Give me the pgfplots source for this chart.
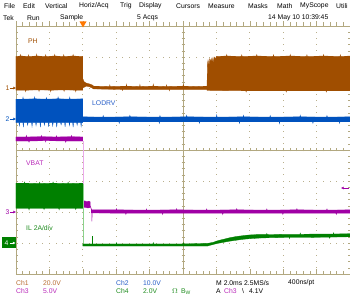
\documentclass[border=0pt]{standalone}
\usepackage{fontspec}
\setmainfont{Liberation Sans}
\usepackage{pgfplots}
\pgfplotsset{compat=1.18}
\usetikzlibrary{arrows.meta}
\definecolor{cA}{RGB}{160,78,0}
\definecolor{cB}{RGB}{0,82,190}
\definecolor{cC}{RGB}{160,0,165}
\definecolor{cD}{RGB}{0,128,0}
\definecolor{cDl}{RGB}{140,210,140}
\definecolor{cCl}{RGB}{235,170,235}
\definecolor{tA}{RGB}{185,110,50}
\definecolor{tB}{RGB}{40,95,200}
\definecolor{tC}{RGB}{185,40,185}
\definecolor{tD}{RGB}{30,140,30}
\definecolor{grat}{RGB}{178,168,128}
\definecolor{gdot}{RGB}{185,175,140}
\definecolor{trig}{RGB}{255,120,0}
\begin{document}
\begin{tikzpicture}[x=1pt,y=1pt,font=\fontsize{6.8}{7}\selectfont]
\path[use as bounding box] (-16,-28) rectangle (334,274);
\fill[white] (-16,-28) rectangle (334,274);
% dotted grid
\foreach \i in {1,2,3,4,6,7,8,9} {\foreach \j in {0,1,...,40} {\fill[gdot] (\i*33.4-0.45,\j*6.2-0.45) rectangle ++(0.9,0.9);}}
\foreach \j in {1,2,3,5,6,7} {\foreach \i in {0,1,...,50} {\fill[gdot] (\i*6.68-0.45,\j*31-0.45) rectangle ++(0.9,0.9);}}
% centre cross
\draw[grat,line width=0.6pt] (167,0)--(167,248) (0,124)--(334,124);
\foreach \j in {0,1,...,40} {\draw[grat,line width=0.5pt] (165.5,\j*6.2)--(168.5,\j*6.2) (0,\j*6.2)--(2.5,\j*6.2) (334,\j*6.2)--(331.5,\j*6.2);}
\foreach \i in {0,1,...,50} {\draw[grat,line width=0.5pt] (\i*6.68,122.5)--(\i*6.68,125.5) (\i*6.68,0)--(\i*6.68,2.5) (\i*6.68,248)--(\i*6.68,251.5);}
\foreach \i in {0,1,...,10} {\draw[grat,line width=0.5pt] (\i*33.4,0)--(\i*33.4,4.5) (\i*33.4,248)--(\i*33.4,253);}
\draw[grat,line width=0.8pt] (0,0) rectangle (334,248);
% trigger position marker
\fill[trig] (63.5,252.5)--(70.5,252.5)--(67,246.5)--cycle;
\begin{axis}[at={(0,0)},anchor=origin,scale only axis,width=334pt,height=248pt,
  xmin=0,xmax=10,ymin=0,ymax=8,hide axis,clip=true]
% Ch1 PH
\addplot[fill=cA,draw=cA,line width=0.3pt] coordinates {
(0,7.02)(0.13,7.03)(0.14,7.08)(0.15,7.03)(0.37,7.02)(0.38,7.07)(0.39,7.02)(0.61,7.03)(0.62,7.09)(0.63,7.03)(0.88,7.02)(0.89,7.07)(0.9,7.02)(1.15,7.03)(1.16,7.08)(1.17,7.03)(1.42,7.02)(1.43,7.07)(1.44,7.02)(1.7,7.03)(1.71,7.08)(1.72,7.03)(2.0,7.02)
(2.0,5.93)(1.8,5.93)(1.79,5.88)(1.78,5.93)(1.45,5.94)(1.44,5.89)(1.43,5.94)(1.05,5.93)(1.04,5.88)(1.03,5.93)(0.7,5.94)(0.69,5.89)(0.68,5.94)(0.3,5.93)(0.29,5.88)(0.28,5.93)(0,5.93)} --cycle;
\addplot[fill=cA,draw=cA,line width=0.3pt] coordinates {
(2.0,6.3)(2.04,6.2)(2.1,6.16)(2.2,6.13)(2.28,6.1)(2.32,6.06)(2.8,6.05)(2.81,6.1)(2.82,6.05)(3.3,6.06)(3.31,6.12)(3.32,6.06)(3.7,6.05)(3.71,6.11)(3.72,6.05)(4.1,6.06)(4.11,6.12)(4.12,6.06)(4.5,6.05)(4.51,6.1)(4.52,6.05)(5.0,6.06)(5.01,6.11)(5.02,6.06)(5.4,6.05)(5.72,6.06)
(5.72,5.95)(4.6,5.95)(4.59,5.91)(4.58,5.95)(3.2,5.95)(3.19,5.92)(3.18,5.95)(2.32,5.97)(2.28,6.0)(2.2,6.04)(2.1,6.06)(2.0,6.0)} --cycle;
\addplot[fill=cA,draw=cA,line width=0.3pt] coordinates {
(5.72,6.05)(5.73,6.75)(5.75,6.9)(5.78,6.72)(5.8,6.95)(5.84,6.86)(5.87,6.98)(5.9,6.82)(5.93,7.0)(5.97,6.94)(6.0,7.02)(6.3,7.03)(6.31,7.08)(6.32,7.03)(6.75,7.02)(6.76,7.07)(6.77,7.02)(7.2,7.03)(7.21,7.08)(7.22,7.03)(7.7,7.02)(7.71,7.07)(7.72,7.02)(8.2,7.03)(8.21,7.08)(8.22,7.03)(8.7,7.02)(8.71,7.07)(8.72,7.02)(9.2,7.03)(9.21,7.08)(9.22,7.03)(9.7,7.02)(9.71,7.07)(9.72,7.02)(10,7.03)
(10,5.91)(9.3,5.91)(9.29,5.87)(9.28,5.91)(8.1,5.91)(8.09,5.87)(8.08,5.91)(6.9,5.91)(6.89,5.87)(6.88,5.91)(5.72,5.92)} --cycle;
% Ch2 LODRV
\addplot[fill=cB,draw=cB,line width=0.3pt] coordinates {
(0,5.64)(0.2,5.64)(0.21,5.7)(0.22,5.64)(0.55,5.65)(0.56,5.71)(0.57,5.65)(0.9,5.64)(0.91,5.69)(0.92,5.64)(1.25,5.65)(1.26,5.71)(1.27,5.65)(1.6,5.64)(1.61,5.7)(1.62,5.64)(2.0,5.65)
(2.0,4.88)(1.962,4.88)(1.95,4.76)(1.938,4.88)(1.842,4.88)(1.83,4.8)(1.818,4.88)(1.722,4.88)(1.71,4.74)(1.698,4.88)(1.612,4.88)(1.6,4.79)(1.588,4.88)(1.482,4.88)(1.47,4.75)(1.458,4.88)(1.362,4.88)(1.35,4.81)(1.338,4.88)(1.232,4.88)(1.22,4.74)(1.208,4.88)(1.112,4.88)(1.1,4.78)(1.088,4.88)(0.992,4.88)(0.98,4.75)(0.968,4.88)(0.862,4.88)(0.85,4.8)(0.838,4.88)(0.742,4.88)(0.73,4.74)(0.718,4.88)(0.612,4.88)(0.6,4.79)(0.588,4.88)(0.492,4.88)(0.48,4.76)(0.468,4.88)(0.362,4.88)(0.35,4.8)(0.338,4.88)(0.232,4.88)(0.22,4.74)(0.208,4.88)(0.112,4.88)(0.1,4.78)(0.088,4.88)(0,4.88)} --cycle;
\addplot[fill=cB,draw=cB,line width=0.3pt] coordinates {
(2.0,5.07)(2.6,5.06)(2.61,5.11)(2.62,5.06)(3.4,5.07)(3.41,5.12)(3.42,5.07)(4.3,5.06)(4.31,5.11)(4.32,5.06)(5.1,5.07)(5.11,5.12)(5.12,5.07)(6.0,5.06)(6.01,5.13)(6.02,5.06)(6.8,5.07)(6.81,5.12)(6.82,5.07)(7.6,5.06)(7.61,5.11)(7.62,5.06)(8.5,5.07)(8.51,5.12)(8.52,5.07)(9.3,5.06)(9.31,5.11)(9.32,5.06)(10,5.07)
(10,4.91)(9.7,4.91)(9.69,4.86)(9.68,4.91)(8.9,4.91)(8.89,4.86)(8.88,4.91)(7.9,4.91)(7.89,4.85)(7.88,4.91)(6.7,4.91)(6.69,4.86)(6.68,4.91)(5.5,4.91)(5.49,4.86)(5.48,4.91)(4.3,4.91)(4.29,4.86)(4.28,4.91)(3.1,4.91)(3.09,4.86)(3.08,4.91)(2.0,4.91)} --cycle;
% Ch3 VBAT
\addplot[fill=cC,draw=cC,line width=0.3pt] coordinates {
(0,4.42)(0.3,4.42)(0.31,4.47)(0.32,4.42)(0.75,4.43)(0.76,4.47)(0.77,4.43)(1.2,4.42)(1.21,4.46)(1.22,4.42)(1.65,4.43)(1.66,4.47)(1.67,4.43)(2.0,4.42)
(2.0,4.29)(1.5,4.29)(1.49,4.25)(1.48,4.29)(0.9,4.3)(0.89,4.26)(0.88,4.3)(0.4,4.29)(0.39,4.25)(0.38,4.29)(0,4.29)} --cycle;
\addplot[cCl,line width=0.8pt] coordinates {(2.01,4.3)(2.01,2.3)};
\addplot[fill=cC,draw=cC,line width=0.3pt] coordinates {
(2.0,2.34)(2.06,2.36)(2.12,2.33)(2.18,2.35)(2.22,2.33)(2.22,2.14)(2.15,2.13)(2.08,2.15)(2.0,2.14)} --cycle;
\addplot[cC,line width=0.6pt] coordinates {(2.22,2.2)(2.27,2.05)(2.27,1.7)(2.28,2.02)};
\addplot[fill=cC,draw=cC,line width=0.3pt] coordinates {
(2.25,2.07)(3.0,2.07)(3.01,2.11)(3.02,2.07)(3.9,2.06)(3.91,2.1)(3.92,2.06)(4.8,2.07)(4.81,2.11)(4.82,2.07)(5.7,2.06)(5.71,2.1)(5.72,2.06)(6.6,2.07)(6.61,2.11)(6.62,2.07)(7.5,2.06)(7.51,2.1)(7.52,2.06)(8.4,2.07)(8.41,2.11)(8.42,2.07)(9.3,2.06)(9.31,2.1)(9.32,2.06)(10,2.07)
(10,1.96)(9.6,1.96)(9.59,1.92)(9.58,1.96)(8.0,1.96)(7.99,1.92)(7.98,1.96)(6.2,1.96)(6.19,1.92)(6.18,1.96)(4.4,1.96)(4.39,1.92)(4.38,1.96)(3.3,1.96)(3.29,1.92)(3.28,1.96)(2.25,1.97)} --cycle;
% Ch4 IL
\addplot[fill=cD,draw=cD,line width=0.3pt] coordinates {
(0,2.93)(0.25,2.93)(0.26,2.97)(0.27,2.93)(0.7,2.92)(0.71,2.96)(0.72,2.92)(1.1,2.93)(1.11,2.97)(1.12,2.93)(1.55,2.92)(1.56,2.96)(1.57,2.92)(2.0,2.93)
(2.0,2.12)(1.8,2.12)(1.79,2.08)(1.78,2.12)(1.3,2.12)(1.29,2.07)(1.28,2.12)(0.85,2.12)(0.84,2.08)(0.83,2.12)(0.4,2.12)(0.39,2.07)(0.38,2.12)(0,2.12)} --cycle;
\addplot[cDl,line width=0.8pt] coordinates {(2.01,2.9)(2.01,0.93)};
\addplot[fill=cD,draw=cD,line width=0.3pt] coordinates {
(2.0,0.97)(3.0,0.97)(3.01,1.01)(3.02,0.97)(4.1,0.97)(4.11,1.01)(4.12,0.97)(5.0,0.97)(5.01,1.01)(5.02,0.97)(5.75,0.99)
(5.75,0.9)(2.0,0.9)} --cycle;
\addplot[cD,line width=0.6pt] coordinates {(2.27,0.97)(2.27,1.22)};
\addplot[fill=cD,draw=cD,line width=0.3pt] coordinates {
(5.75,0.99)(5.9,1.02)(6.0,1.06)(6.1,1.09)(6.25,1.13)(6.4,1.17)(6.5,1.19)(6.6,1.21)(6.75,1.23)(6.9,1.25)(7.0,1.26)(7.2,1.27)(7.5,1.27)(7.51,1.31)(7.52,1.27)(8.0,1.28)(8.5,1.28)(8.51,1.32)(8.52,1.28)(9.0,1.29)(9.5,1.29)(9.51,1.33)(9.52,1.29)(10,1.3)
(10,1.2)(9.4,1.19)(9.39,1.15)(9.38,1.19)(8.8,1.18)(8.2,1.18)(8.19,1.14)(8.18,1.18)(7.6,1.17)(7.3,1.16)(7.0,1.14)(6.8,1.12)(6.6,1.09)(6.4,1.06)(6.2,1.02)(6.0,0.98)(5.9,0.95)(5.75,0.91)} --cycle;
\end{axis}
% channel labels on screen
\node[text=cA,anchor=west,inner sep=0pt] at (12,233) {PH};
\node[text=tB,anchor=west,inner sep=0pt] at (76,171) {LODRV};
\node[text=tC,anchor=west,inner sep=0pt] at (10,111) {VBAT};
\node[text=tD,anchor=west,inner sep=0pt] at (10,46) {IL 2A/div};
% ground markers
\node[text=cA,inner sep=0pt] at (-8.5,186) {1};
\draw[cA,line width=0.6pt,-{Latex[length=2.5pt,width=2.8pt]}] (-6,186)--(0,186);
\node[text=cB,inner sep=0pt] at (-8.5,155) {2};
\draw[cB,line width=0.6pt,-{Latex[length=2.5pt,width=2.8pt]}] (-6,155)--(0,155);
\node[text=cC,inner sep=0pt] at (-8.5,62) {3};
\draw[cC,line width=0.6pt,-{Latex[length=2.5pt,width=2.8pt]}] (-6,62)--(0,62);
\fill[cD] (-14,25.5) rectangle (0,36.5);
\node[text=white,inner sep=0pt] at (-9.5,31) {4};
\draw[white,line width=0.6pt,-{Latex[length=2.5pt,width=2.8pt]}] (-6,31)--(-0.5,31);
% trigger level marker
\draw[cC,line width=0.6pt,-{Latex[length=2.5pt,width=2.8pt]}] (333,86)--(325,86);
% menu bar
\begin{scope}[every node/.style={anchor=west,inner sep=0pt,text=black}]
\node at (-12,268) {File};
\node at (7,268) {Edit};
\node at (29,268) {Vertical};
\node at (63,268) {Horiz/Acq};
\node at (104,268) {Trig};
\node at (123,268) {Display};
\node at (160,268) {Cursors};
\node at (192,268) {Measure};
\node at (232,268) {Masks};
\node at (261,268) {Math};
\node at (284,268) {MyScope};
\node at (320,268) {Utili};
\node at (-13,256) {Tek};
\node at (11,256) {Run};
\node at (44,256) {Sample};
\node at (121,256) {5 Acqs};
\node at (252,256) {14 May 10 10:39:45};
% bottom readout
\node[text=tA] at (0,-9) {Ch1};
\node[text=tA] at (27,-9) {20.0V};
\node[text=tB] at (100,-9) {Ch2};
\node[text=tB] at (127,-9) {10.0V};
\node at (200,-9) {M 2.0ms 2.5MS/s};
\node at (272,-9) {400ns/pt};
\node[text=tC] at (0,-17.5) {Ch3};
\node[text=tC] at (27,-17.5) {5.0V};
\node[text=tD] at (100,-17.5) {Ch4};
\node[text=tD] at (127,-17.5) {2.0V};
\node[text=tD] at (156,-17.5) {$\Omega$};
\node[text=tD] at (165,-17.5) {B\raisebox{-0.6pt}{\fontsize{5}{5}\selectfont W}};
\node at (200,-17.5) {A};
\node[text=tC] at (208,-17.5) {Ch3};
\node at (226,-17.5) {\textbackslash};
\node at (233,-17.5) {4.1V};
\end{scope}
\end{tikzpicture}
\end{document}
